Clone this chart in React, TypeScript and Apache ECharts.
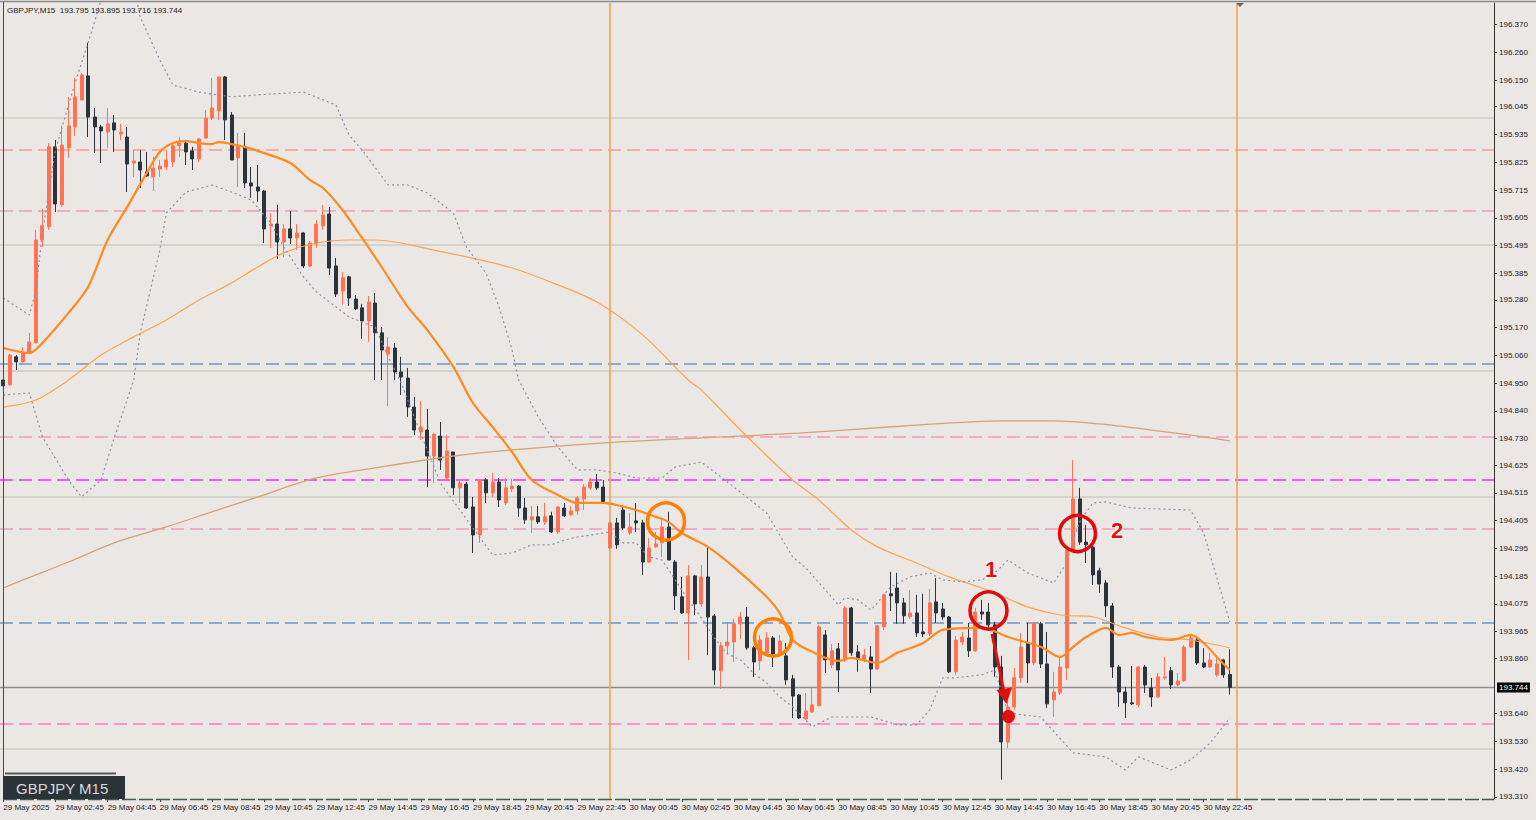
import React, { useEffect, useRef } from "react";
import * as echarts from "echarts";

// ---------- DATA ----------
const opens = [
  194.962, 194.943, 195.054, 195.034, 195.069, 195.109, 195.517, 195.569, 195.886, 195.656,
  195.882, 195.965, 196.072, 196.167, 196.004, 195.965, 195.945, 195.981, 195.937, 195.925,
  195.822, 195.826, 195.787, 195.767, 195.798, 195.806, 195.826, 195.890, 195.901, 195.870,
  195.838, 195.921, 196.000, 196.028, 196.163, 196.012, 195.842, 195.886, 195.743, 195.727,
  195.711, 195.573, 195.580, 195.509, 195.561, 195.525, 195.545, 195.414, 195.501, 195.573,
  195.620, 195.414, 195.315, 195.371, 195.283, 195.248, 195.196, 195.267, 195.149, 195.065,
  195.089, 194.994, 194.970, 194.855, 194.756, 194.764, 194.661, 194.740, 194.574, 194.677,
  194.535, 194.550, 194.459, 194.348, 194.566, 194.515, 194.558, 194.475, 194.531, 194.542,
  194.455, 194.408, 194.420, 194.400, 194.424, 194.360, 194.455, 194.428, 194.443, 194.491,
  194.535, 194.558, 194.538, 194.297, 194.396, 194.447, 194.356, 194.404, 194.396, 194.241,
  194.301, 194.317, 194.380, 194.241, 194.103, 194.039, 194.186, 194.075, 194.182, 194.027,
  193.810, 193.909, 193.924, 193.996, 194.023, 193.901, 193.849, 193.881, 193.940, 193.881,
  193.869, 193.778, 193.714, 193.619, 193.647, 193.671, 193.952, 193.833, 193.897, 193.853,
  194.059, 193.885, 193.853, 193.865, 193.817, 193.984, 194.115, 194.138, 194.079, 194.024,
  194.039, 193.964, 193.956, 194.083, 194.055, 194.023, 193.806, 193.924, 193.940, 193.889,
  194.043, 194.043, 193.992, 193.825, 193.528, 193.667, 193.782, 193.920, 193.841, 193.996,
  193.837, 193.695, 193.722, 193.821, 194.289, 194.491, 194.320, 194.300, 194.206, 194.158,
  194.067, 193.825, 193.726, 193.683, 193.675, 193.825, 193.742, 193.706, 193.782, 193.810,
  193.754, 193.770, 193.904, 193.932, 193.841, 193.825, 193.794, 193.853, 193.795,
];
const closes = [
  194.939, 195.061, 195.034, 195.069, 195.113, 195.517, 195.573, 195.886, 195.660, 195.893,
  195.969, 196.084, 196.171, 196.004, 195.965, 195.949, 195.977, 195.953, 195.945, 195.818,
  195.830, 195.794, 195.771, 195.802, 195.810, 195.834, 195.890, 195.901, 195.866, 195.838,
  195.917, 196.000, 196.040, 196.163, 195.993, 195.834, 195.890, 195.743, 195.731, 195.711,
  195.561, 195.580, 195.509, 195.561, 195.525, 195.545, 195.414, 195.505, 195.580, 195.616,
  195.406, 195.303, 195.367, 195.287, 195.244, 195.196, 195.271, 195.149, 195.081, 195.093,
  194.994, 194.974, 194.855, 194.764, 194.776, 194.661, 194.748, 194.645, 194.681, 194.535,
  194.554, 194.455, 194.348, 194.566, 194.515, 194.558, 194.487, 194.535, 194.542, 194.455,
  194.408, 194.420, 194.400, 194.420, 194.360, 194.459, 194.424, 194.443, 194.495, 194.538,
  194.558, 194.535, 194.479, 194.396, 194.309, 194.376, 194.380, 194.396, 194.241, 194.297,
  194.313, 194.380, 194.249, 194.107, 194.039, 194.186, 194.075, 194.182, 194.023, 193.813,
  193.909, 193.924, 193.996, 194.023, 193.901, 193.845, 193.932, 193.940, 193.877, 193.928,
  193.774, 193.710, 193.623, 193.651, 193.675, 193.984, 193.853, 193.889, 193.813, 194.059,
  193.881, 193.861, 193.873, 193.817, 193.988, 194.111, 194.107, 194.079, 194.028, 194.039,
  193.960, 193.956, 194.079, 194.039, 194.023, 193.806, 193.932, 193.944, 193.889, 194.043,
  194.035, 193.992, 193.825, 193.528, 193.667, 193.782, 193.904, 193.841, 193.999, 193.837,
  193.679, 193.726, 193.825, 194.289, 194.491, 194.320, 194.309, 194.190, 194.154, 194.067,
  193.825, 193.726, 193.683, 193.679, 193.825, 193.754, 193.706, 193.786, 193.786, 193.754,
  193.770, 193.904, 193.940, 193.841, 193.825, 193.853, 193.837, 193.794, 193.744,
];
const lows = [
  194.923, 194.939, 195.002, 195.030, 195.069, 195.109, 195.489, 195.557, 195.628, 195.648,
  195.842, 195.929, 196.072, 195.925, 195.862, 195.822, 195.882, 195.866, 195.913, 195.707,
  195.767, 195.723, 195.767, 195.711, 195.767, 195.794, 195.806, 195.846, 195.814, 195.794,
  195.826, 195.917, 195.993, 195.993, 195.913, 195.834, 195.727, 195.723, 195.684, 195.668,
  195.505, 195.485, 195.442, 195.450, 195.501, 195.477, 195.406, 195.410, 195.485, 195.557,
  195.378, 195.291, 195.260, 195.256, 195.240, 195.125, 195.113, 194.962, 194.962, 194.859,
  194.962, 194.903, 194.816, 194.744, 194.725, 194.538, 194.554, 194.606, 194.566, 194.507,
  194.475, 194.451, 194.277, 194.317, 194.475, 194.499, 194.459, 194.467, 194.519, 194.420,
  194.392, 194.356, 194.392, 194.388, 194.356, 194.352, 194.420, 194.424, 194.428, 194.447,
  194.527, 194.527, 194.475, 194.293, 194.293, 194.368, 194.348, 194.360, 194.190, 194.237,
  194.297, 194.261, 194.249, 194.051, 194.035, 193.853, 194.031, 194.063, 193.873, 193.754,
  193.738, 193.877, 193.845, 193.936, 193.893, 193.786, 193.813, 193.873, 193.825, 193.873,
  193.754, 193.623, 193.619, 193.615, 193.643, 193.671, 193.801, 193.821, 193.726, 193.845,
  193.869, 193.806, 193.845, 193.722, 193.813, 193.972, 194.047, 193.996, 193.996, 194.016,
  193.944, 193.944, 193.948, 194.000, 194.012, 193.801, 193.794, 193.912, 193.865, 193.885,
  194.012, 193.980, 193.786, 193.378, 193.504, 193.655, 193.762, 193.762, 193.833, 193.821,
  193.663, 193.627, 193.714, 193.774, 194.280, 194.309, 194.237, 194.150, 194.119, 194.024,
  193.782, 193.667, 193.623, 193.675, 193.667, 193.722, 193.667, 193.703, 193.774, 193.738,
  193.750, 193.766, 193.900, 193.833, 193.821, 193.821, 193.786, 193.782, 193.716,
];
const highs = [
  194.970, 195.065, 195.061, 195.093, 195.149, 195.557, 195.640, 195.901, 195.913, 195.969,
  196.084, 196.159, 196.179, 196.298, 196.040, 195.973, 196.040, 196.012, 195.977, 195.965,
  195.874, 195.874, 195.866, 195.846, 195.834, 195.874, 195.901, 195.925, 195.913, 195.886,
  195.921, 196.032, 196.159, 196.163, 196.167, 196.024, 195.941, 195.941, 195.806, 195.814,
  195.715, 195.624, 195.656, 195.580, 195.632, 195.580, 195.549, 195.513, 195.596, 195.656,
  195.648, 195.446, 195.390, 195.375, 195.299, 195.264, 195.295, 195.307, 195.172, 195.133,
  195.109, 195.054, 195.010, 194.895, 194.879, 194.848, 194.748, 194.796, 194.745, 194.677,
  194.566, 194.558, 194.499, 194.570, 194.574, 194.594, 194.574, 194.574, 194.570, 194.546,
  194.495, 194.463, 194.463, 194.475, 194.440, 194.463, 194.475, 194.463, 194.503, 194.550,
  194.574, 194.590, 194.566, 194.400, 194.416, 194.467, 194.436, 194.475, 194.408, 194.336,
  194.360, 194.408, 194.440, 194.249, 194.182, 194.229, 194.190, 194.229, 194.301, 194.035,
  193.924, 194.000, 194.016, 194.043, 194.063, 193.909, 193.952, 193.964, 193.948, 193.952,
  193.920, 193.794, 193.718, 193.722, 193.746, 193.992, 193.972, 193.916, 193.920, 194.067,
  194.063, 193.912, 193.897, 193.908, 193.992, 194.115, 194.202, 194.198, 194.099, 194.130,
  194.111, 194.115, 194.134, 194.178, 194.079, 194.027, 193.948, 193.964, 193.999, 194.059,
  194.091, 194.079, 194.004, 193.869, 193.722, 193.821, 193.960, 193.999, 194.004, 194.004,
  193.964, 193.806, 193.865, 194.300, 194.645, 194.535, 194.388, 194.328, 194.218, 194.170,
  194.079, 193.833, 193.746, 193.829, 193.829, 193.833, 193.782, 193.802, 193.865, 193.825,
  193.802, 193.912, 193.952, 193.940, 193.900, 193.881, 193.865, 193.857, 193.895,
];

// indicator lines, read at points along each line: [bar index, price]
const bbMiddle = [
  [0, 195.089], [4, 195.069], [6, 195.109], [10, 195.228], [13, 195.331], [16, 195.517], [19, 195.648],
  [22, 195.783], [24, 195.866], [26, 195.901], [28, 195.909], [30, 195.901], [32, 195.897], [33, 195.905],
  [35, 195.897], [37, 195.886], [39, 195.870], [44, 195.822], [47, 195.755], [49, 195.723], [52, 195.636],
  [55, 195.525], [58, 195.410], [62, 195.252], [65, 195.160], [69, 195.014], [72, 194.871], [75, 194.776],
  [78, 194.677], [81, 194.566], [85, 194.507], [88, 194.475], [92, 194.475], [94, 194.467], [97, 194.447],
  [100, 194.420], [102, 194.400], [104, 194.356], [108, 194.301], [112, 194.221], [117, 194.103],
  [119, 194.039], [121, 193.932], [124, 193.885], [128, 193.849], [130, 193.861], [134, 193.841],
  [137, 193.881], [141, 193.920], [144, 193.972], [150, 193.980], [154, 193.944], [159, 193.905],
  [162, 193.865], [164, 193.905], [166, 193.944], [169, 193.980], [171, 193.952], [173, 193.960],
  [175, 193.944], [179, 193.932], [182, 193.952], [184, 193.920], [186, 193.865], [188, 193.813],
];
const maMid = [
  [0, 194.855], [5, 194.883], [10, 194.962], [15, 195.061], [20, 195.133], [25, 195.200], [30, 195.279],
  [35, 195.347], [39, 195.410], [43, 195.466], [48, 195.505], [53, 195.517], [57, 195.517], [61, 195.505],
  [66, 195.477], [71, 195.450], [78, 195.406], [85, 195.339], [91, 195.271], [98, 195.141], [105, 194.962],
  [107, 194.923], [113, 194.764], [121, 194.566], [125, 194.487], [130, 194.368], [134, 194.301],
  [140, 194.237], [145, 194.182], [150, 194.138], [152, 194.119], [157, 194.063], [162, 194.031],
  [167, 194.024], [172, 193.980], [177, 193.944], [182, 193.932], [188, 193.901],
];
const maLong = [
  [0, 194.138], [3, 194.170], [10, 194.241], [17, 194.317], [25, 194.380], [32, 194.440], [39, 194.499],
  [48, 194.574], [58, 194.618], [69, 194.661], [78, 194.685], [92, 194.713], [107, 194.733], [122, 194.752],
  [138, 194.780], [153, 194.800], [161, 194.800], [168, 194.788], [176, 194.764], [184, 194.737], [188, 194.721],
];
const bbUpper = [
  [0, 195.287], [4, 195.220], [5, 195.319], [6, 195.545], [8, 195.874], [11, 196.139], [13, 196.298],
  [15, 196.468], [18, 196.620], [20, 196.520], [21, 196.401], [24, 196.230], [26, 196.131], [30, 196.103],
  [35, 196.084], [39, 196.092], [46, 196.103], [51, 196.052], [53, 195.933], [55, 195.874], [59, 195.735],
  [62, 195.735], [65, 195.703], [69, 195.624], [71, 195.489], [74, 195.386], [76, 195.252], [78, 195.081],
  [79, 194.962], [82, 194.816], [85, 194.697], [88, 194.606], [91, 194.606], [94, 194.594], [97, 194.574],
  [101, 194.574], [103, 194.618], [107, 194.637], [111, 194.558], [117, 194.436], [121, 194.261],
  [123, 194.218], [126, 194.130], [128, 194.071], [129, 194.099], [131, 194.091], [133, 194.051],
  [134, 194.079], [136, 194.142], [139, 194.182], [142, 194.198], [144, 194.170], [147, 194.162],
  [150, 194.170], [152, 194.198], [154, 194.249], [157, 194.198], [161, 194.158], [163, 194.237],
  [164, 194.328], [165, 194.400], [167, 194.475], [169, 194.479], [173, 194.455], [182, 194.447],
  [184, 194.356], [188, 194.004],
];
const bbLower = [
  [0, 194.903], [4, 194.911], [6, 194.737], [10, 194.566], [12, 194.499], [15, 194.566], [17, 194.733],
  [20, 194.962], [21, 195.149], [24, 195.477], [25, 195.624], [28, 195.707], [32, 195.735], [35, 195.707],
  [38, 195.676], [41, 195.585], [43, 195.489], [46, 195.371], [48, 195.311], [51, 195.252], [53, 195.212],
  [57, 195.172], [59, 195.054], [61, 194.951], [63, 194.816], [65, 194.685], [67, 194.554], [70, 194.447],
  [73, 194.340], [75, 194.269], [78, 194.277], [81, 194.309], [84, 194.309], [86, 194.328], [88, 194.340],
  [93, 194.360], [95, 194.317], [97, 194.317], [99, 194.261], [101, 194.249], [103, 194.170],
  [105, 194.091], [107, 194.020], [109, 193.940], [111, 193.877], [113, 193.853], [115, 193.801],
  [117, 193.762], [119, 193.707], [121, 193.667], [123, 193.615], [124, 193.588], [127, 193.627],
  [133, 193.627], [137, 193.596], [140, 193.596], [142, 193.655], [144, 193.782], [146, 193.782],
  [150, 193.794], [152, 193.813], [154, 193.643], [159, 193.627], [164, 193.485], [169, 193.469],
  [172, 193.417], [174, 193.469], [179, 193.417], [182, 193.457], [185, 193.524], [188, 193.623],
];

// horizontal levels
const roundLevels = [196.0, 195.5, 195.0, 194.5, 193.5];
const salmonLevels = [195.874];
const pinkLevels = [195.632, 194.737, 194.372];
const hotPinkLevels = [193.6];
const magentaLevels = [194.566];
const blueLevels = [195.026, 194.002];
const daySeparatorBars = [93, 189];

// axis labels
const xTickLabels = [
  "29 May 2025", "29 May 02:45", "29 May 04:45", "29 May 06:45", "29 May 08:45", "29 May 10:45",
  "29 May 12:45", "29 May 14:45", "29 May 16:45", "29 May 18:45", "29 May 20:45", "29 May 22:45",
  "30 May 00:45", "30 May 02:45", "30 May 04:45", "30 May 06:45", "30 May 08:45", "30 May 10:45",
  "30 May 12:45", "30 May 14:45", "30 May 16:45", "30 May 18:45", "30 May 20:45", "30 May 22:45",
];
const xLabelEvery = 8;
const yTickValues = [
  196.37, 196.26, 196.15, 196.045, 195.935, 195.825, 195.715, 195.605, 195.495, 195.385,
  195.28, 195.17, 195.06, 194.95, 194.84, 194.73, 194.625, 194.515, 194.405, 194.295,
  194.185, 194.075, 193.965, 193.86, 193.64, 193.53, 193.42, 193.31,
];
const slotCount = 229; // bars + empty chart shift area

const FONT = '"Liberation Sans", Arial, sans-serif';
const BULL = "#FF7352";
const BEAR = "#2B333C";

export default function App() {
  const ref = useRef<HTMLDivElement>(null);

  useEffect(() => {
    if (!ref.current) return;
    const chart = echarts.init(ref.current, null, { renderer: "svg" });

    const n = closes.length;
    const candles = closes.map((c, i) => [opens[i], c, lows[i], highs[i]]);
    const cats = Array.from({ length: slotCount }, (_, i) => String(i));
    const showLabel = (i: number) => i % xLabelEvery === 0 && i / xLabelEvery < xTickLabels.length;
    const last = closes[n - 1];

    const dash = [13, 6];
    const levelData: any[] = [
      ...roundLevels.map((v) => ({ yAxis: v, lineStyle: { color: "#CFCBC7", width: 1.5, type: "solid" } })),
      ...salmonLevels.map((v) => ({ yAxis: v, lineStyle: { color: "#F6A08E", width: 1.5, type: dash } })),
      ...pinkLevels.map((v) => ({ yAxis: v, lineStyle: { color: "#F19BC4", width: 1.5, type: dash } })),
      ...hotPinkLevels.map((v) => ({ yAxis: v, lineStyle: { color: "#FF7CC6", width: 1.5, type: dash } })),
      ...magentaLevels.map((v) => ({ yAxis: v, lineStyle: { color: "#F25CF0", width: 2, type: dash } })),
      ...blueLevels.map((v) => ({ yAxis: v, lineStyle: { color: "#6C97C4", width: 1.5, type: dash } })),
      {
        yAxis: last,
        lineStyle: { color: "#8E8E8E", width: 1.3, type: "solid" },
        label: {
          show: true,
          position: "end",
          formatter: last.toFixed(3),
          backgroundColor: "#000",
          color: "#fff",
          fontSize: 8,
          fontFamily: FONT,
          padding: [1, 2, 1, 2],
          distance: 3,
        },
      },
      ...daySeparatorBars.map((b) => ({ xAxis: b, lineStyle: { color: "#F5A040", width: 1.5, type: "solid" } })),
    ];

    const lineSeries = (data: number[][], color: string, width: number, type: any, z: number, smooth: any) => ({
      type: "line",
      data,
      symbol: "none",
      showSymbol: false,
      smooth,
      silent: true,
      z,
      lineStyle: { color, width, type },
    });

    const header = `GBPJPY,M15  ${opens[n - 1].toFixed(3)} ${highs[n - 1].toFixed(3)} ${lows[n - 1].toFixed(3)} ${closes[n - 1].toFixed(3)}`;

    const option: any = {
      animation: false,
      backgroundColor: "#EAE7E4",
      grid: { left: 0, top: 3, width: 1494, height: 796, show: false },
      xAxis: {
        type: "category",
        data: cats,
        boundaryGap: true,
        axisLine: { show: false },
        axisTick: { show: true, interval: (i: number) => showLabel(i), alignWithLabel: true, length: 3, lineStyle: { color: "#444" } },
        axisLabel: {
          interval: (i: number) => showLabel(i),
          formatter: (_v: string, i: number) => (showLabel(i) ? xTickLabels[i / xLabelEvery] : ""),
          align: "left",
          fontSize: 8,
          fontFamily: FONT,
          color: "#222",
          margin: 4,
        },
        splitLine: { show: false },
      },
      yAxis: {
        type: "value",
        position: "right",
        min: 193.302,
        max: 196.456,
        axisLine: { show: true, lineStyle: { color: "#333", width: 1 } },
        axisTick: { show: true, customValues: yTickValues, length: 3, lineStyle: { color: "#333" } },
        axisLabel: {
          customValues: yTickValues,
          formatter: (v: number) => v.toFixed(3),
          fontSize: 8,
          fontFamily: FONT,
          color: "#222",
          margin: 5,
        },
        splitLine: { show: false },
      },
      series: [
        {
          type: "candlestick",
          data: candles,
          barWidth: 3.5,
          z: 3,
          itemStyle: { color: BULL, color0: BEAR, borderColor: BULL, borderColor0: BEAR, borderWidth: 1 },
          markLine: {
            symbol: ["none", "none"],
            silent: true,
            precision: 3,
            label: { show: false },
            data: levelData,
            z: 1,
          },
        },
        lineSeries(maLong, "#D9A26E", 1.3, "solid", 4, 0.3),
        lineSeries(maMid, "#FFA44A", 1.2, "solid", 4, 0.3),
        lineSeries(bbUpper, "#8E8CAA", 1.2, [2, 3], 4, false),
        lineSeries(bbLower, "#8E8CAA", 1.2, [2, 3], 4, false),
        lineSeries(bbMiddle, "#FF8A1E", 2.2, "solid", 5, 0.3),
      ],
      graphic: [
        { type: "line", z: 50, shape: { x1: 0, y1: 1.5, x2: 1536, y2: 1.5 }, style: { stroke: "#8A8A8A", lineWidth: 1.5 } },
        { type: "line", z: 50, shape: { x1: 3.5, y1: 2, x2: 3.5, y2: 800 }, style: { stroke: "#4A4A4A", lineWidth: 1 } },
        { type: "line", z: 50, shape: { x1: 3, y1: 799.5, x2: 1494, y2: 799.5 }, style: { stroke: "#3F5B48", lineWidth: 1.5, lineDash: [14, 3] } },
        { type: "text", z: 50, x: 7, y: 10, style: { text: header, fontSize: 8, fontFamily: FONT, fill: "#1A1A1A", verticalAlign: "middle" } },
        { type: "polygon", z: 50, shape: { points: [[1236, 3], [1244, 3], [1240, 7]] }, style: { fill: "#666" } },
        { type: "line", z: 50, shape: { x1: 5, y1: 773.5, x2: 116, y2: 773.5 }, style: { stroke: "#56595C", lineWidth: 2 } },
        { type: "rect", z: 50, shape: { x: 3, y: 776, width: 122, height: 23 }, style: { fill: "#2B3339" } },
        { type: "text", z: 51, x: 16, y: 788, style: { text: "GBPJPY M15", fontSize: 15, fontFamily: FONT, fill: "#D5D8DB", verticalAlign: "middle" } },
        { type: "circle", z: 60, shape: { cx: 666, cy: 521.5, r: 18.5 }, style: { fill: "none", stroke: "#FF8000", lineWidth: 3.5 } },
        { type: "circle", z: 60, shape: { cx: 773, cy: 637.5, r: 18.5 }, style: { fill: "none", stroke: "#FF8000", lineWidth: 3.5 } },
        { type: "circle", z: 60, shape: { cx: 988.5, cy: 610.5, r: 18.5 }, style: { fill: "none", stroke: "#E00A0A", lineWidth: 3.5 } },
        { type: "circle", z: 60, shape: { cx: 1077.5, cy: 533.5, r: 18 }, style: { fill: "none", stroke: "#E00A0A", lineWidth: 3.5 } },
        { type: "text", z: 60, x: 991, y: 569, style: { text: "1", fontSize: 22, fontWeight: "bold", fontFamily: FONT, fill: "#E01010", stroke: "#fff", lineWidth: 2, align: "center", verticalAlign: "middle" } },
        { type: "text", z: 60, x: 1117, y: 530, style: { text: "2", fontSize: 22, fontWeight: "bold", fontFamily: FONT, fill: "#E01010", stroke: "#fff", lineWidth: 2, align: "center", verticalAlign: "middle" } },
        { type: "polyline", z: 60, shape: { points: [[992, 634], [998, 662], [1004, 692]] }, style: { stroke: "#E01010", lineWidth: 3, fill: "none" } },
        { type: "polygon", z: 60, shape: { points: [[996.5, 690], [1012, 687.5], [1006.5, 704]] }, style: { fill: "#E01010" } },
        { type: "circle", z: 60, shape: { cx: 1008.5, cy: 716.5, r: 6.5 }, style: { fill: "#E01010" } },
      ],
    };

    chart.setOption(option);
    return () => chart.dispose();
  }, []);

  return (
    <div
      ref={ref}
      style={{ position: "absolute", left: 0, top: 0, width: 1536, height: 820 }}
    />
  );
}
